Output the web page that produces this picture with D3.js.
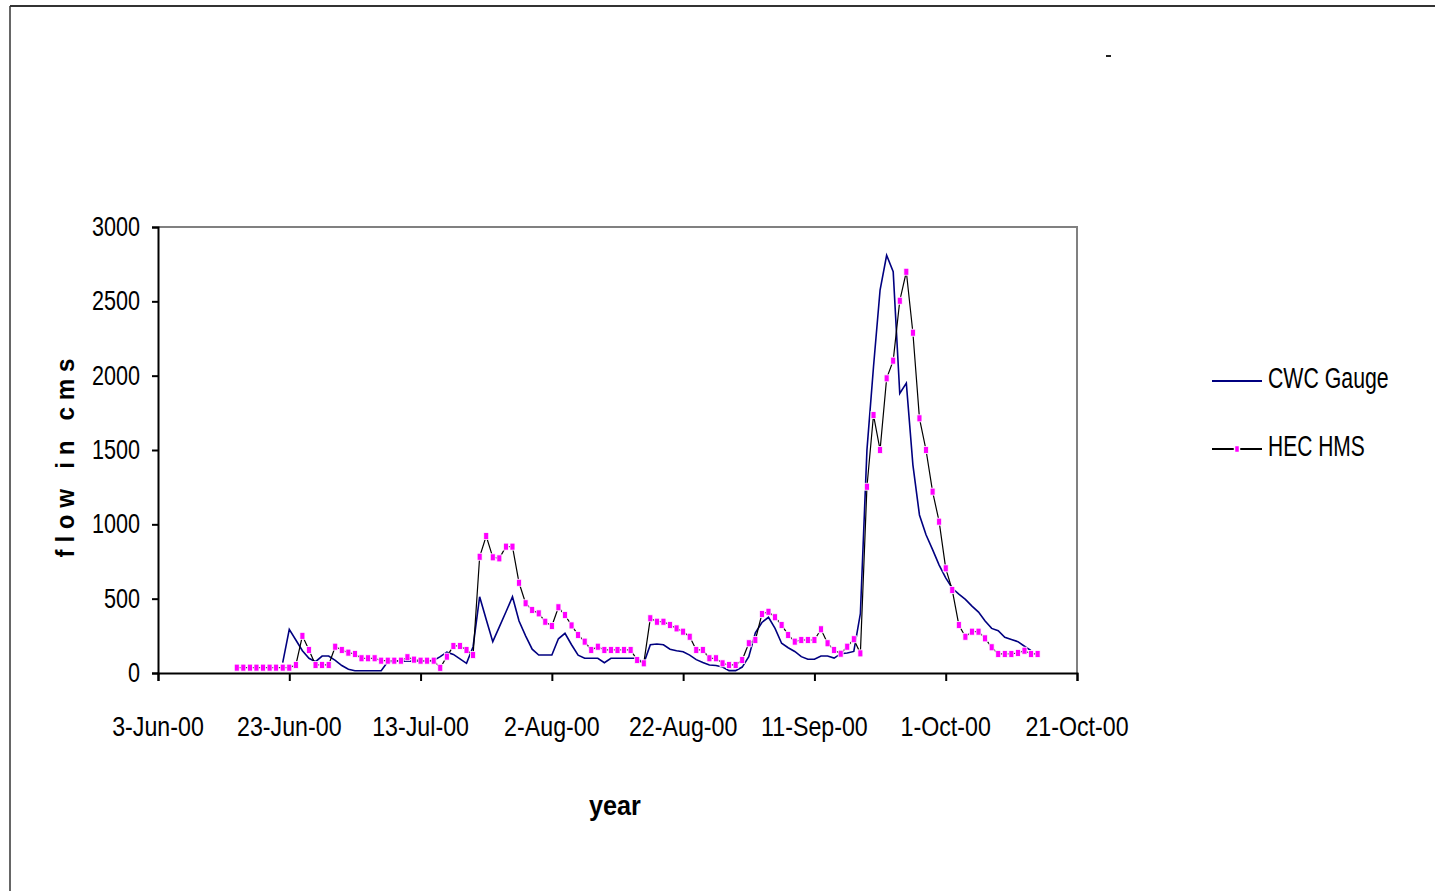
<!DOCTYPE html>
<html>
<head>
<meta charset="utf-8">
<script src="https://cdn.jsdelivr.net/npm/d3@7"></script>
<style>
  html, body { margin: 0; padding: 0; background: #fff; }
  svg { display: block; }
  text { font-family: Arial, "Liberation Sans", sans-serif; fill: #000; white-space: pre; }
</style>
</head>
<body>
<svg id="chart" width="1435" height="891"></svg>
<script>
// ---- data -------------------------------------------------------------
const xTickLabels = ["3-Jun-00", "23-Jun-00", "13-Jul-00", "2-Aug-00",
                     "22-Aug-00", "11-Sep-00", "1-Oct-00", "21-Oct-00"];
const yTickValues = [0, 500, 1000, 1500, 2000, 2500, 3000];

// simulated daily flow (HEC HMS), first value on 15-Jun-00
const hecStart = "15-Jun-00";
const hecFlow = [
  36, 36, 36, 36, 36, 36, 36, 36, 36,
  54, 250, 155, 54, 54, 54, 177, 155, 137, 128,
  99, 99, 99, 83, 83, 83, 83, 106, 90, 83,
  83, 83, 35, 110, 182, 182, 155, 121, 782, 921,
  778, 771, 850, 850, 607, 469, 424, 401, 345, 316,
  442, 390, 320, 256, 211, 155, 177, 155, 155, 155,
  155, 155, 87, 65, 368, 345, 345, 323, 300, 278,
  244, 155, 155, 99, 99, 65, 54, 54, 87, 200,
  222, 397, 412, 375, 323, 256, 211, 222, 222, 222,
  294, 200, 155, 130, 177, 227, 132, 1253, 1735, 1500,
  1982, 2101, 2504, 2699, 2289, 1713, 1500, 1220, 1018, 704,
  558, 323, 244, 278, 278, 233, 173, 128, 128, 128,
  135, 150, 128, 128
];

// observed daily flow (CWC gauge), first value on 22-Jun-00
const cwcStart = "22-Jun-00";
const cwcFlow = [
  70, 294,
  222, 150, 99, 76, 114, 114, 85, 50, 25, 15,
  15, 15, 15, 15, 75, 80, 80, 80, 80, 80,
  80, 85, 110, 140, 125, 95, 65, 177, 513, 360,
  211, 310, 410, 513, 350, 250, 160, 121, 121, 121,
  230, 267, 190, 120, 99, 99, 99, 69, 99, 99,
  99, 99, 99, 65, 190, 195, 190, 160, 150, 143,
  120, 90, 70, 54, 50, 40, 16, 16, 40, 110,
  270, 340, 375, 300, 200, 170, 145, 110, 92, 92,
  114, 114, 100, 130, 135, 145, 400, 1500, 2060, 2576,
  2810, 2700, 1880, 1950, 1400, 1063, 930, 830, 726, 640,
  570, 530, 495, 450, 410, 350, 300, 285, 240, 225,
  211, 180, 150
];

const seriesNames = ["CWC Gauge", "HEC HMS"];
const yTitle = "f l o w   i n   c m s";
const xTitle = "year";

// ---- setup ------------------------------------------------------------
const parseDate = d3.timeParse("%d-%b-%y");
const toSeries = (start, values) =>
  values.map((v, i) => ({ date: d3.timeDay.offset(parseDate(start), i), value: v }));
const hec = toSeries(hecStart, hecFlow);
const cwc = toSeries(cwcStart, cwcFlow);
const tickDates = xTickLabels.map(parseDate);

const svg = d3.select("#chart");
const plot = { left: 158, right: 1077, top: 227, bottom: 673 };

const x = d3.scaleTime()
  .domain([tickDates[0], tickDates[tickDates.length - 1]])
  .range([plot.left, plot.right]);
const y = d3.scaleLinear().domain([0, 3000]).range([plot.bottom, plot.top]);

// condensed text helper (narrow, tall lettering)
function label(parent, px, py, str, opt = {}) {
  const g = parent.append("g")
    .attr("transform", `translate(${px},${py})${opt.rotate ? ` rotate(${opt.rotate})` : ""} scale(${opt.sx || 0.8},1)`);
  return g.append("text")
    .attr("text-anchor", opt.anchor || "start")
    .attr("font-size", opt.size || 27)
    .attr("font-weight", opt.weight || "normal")
    .text(str);
}

// outer chart frame
svg.append("line").attr("x1", 10).attr("x2", 1435).attr("y1", 6).attr("y2", 6)
  .attr("stroke", "#333").attr("stroke-width", 2);
svg.append("line").attr("x1", 10).attr("x2", 10).attr("y1", 6).attr("y2", 891)
  .attr("stroke", "#333").attr("stroke-width", 1.5);
svg.append("rect").attr("x", 1106).attr("y", 55).attr("width", 5).attr("height", 2).attr("fill", "#222");

// plot area border (top / right)
svg.append("path")
  .attr("d", `M${plot.left},${plot.top}H${plot.right}V${plot.bottom}`)
  .attr("fill", "none").attr("stroke", "#808080").attr("stroke-width", 2);

// axes
const xAxis = d3.axisBottom(x).tickValues(tickDates).tickSize(8).tickFormat("");
svg.append("g").attr("transform", `translate(0,${plot.bottom})`).call(xAxis)
  .call(g => g.selectAll("path,line").attr("stroke", "#000").attr("stroke-width", 2));
const yAxis = d3.axisLeft(y).tickValues(yTickValues).tickSize(6).tickFormat("");
svg.append("g").attr("transform", `translate(${plot.left},0)`).call(yAxis)
  .call(g => g.selectAll("path,line").attr("stroke", "#000").attr("stroke-width", 2));

// tick labels
const labels = svg.append("g");
yTickValues.forEach(v => label(labels, 140, y(v) + 9, String(v), { anchor: "end", sx: 0.8 }));
tickDates.forEach((d, i) => label(labels, x(d), 736, xTickLabels[i], { anchor: "middle", sx: 0.86 }));

// axis titles
label(labels, 615, 815, xTitle, { anchor: "middle", weight: "bold", sx: 0.9, size: 28 });
label(labels, 74, 458, yTitle, { anchor: "middle", weight: "bold", rotate: -90, sx: 0.93, size: 26 });

// series lines
const line = d3.line().x(d => x(d.date)).y(d => y(d.value));
svg.append("path").datum(cwc).attr("d", line)
  .attr("fill", "none").attr("stroke", "#000080").attr("stroke-width", 1.6);
svg.append("path").datum(hec).attr("d", line)
  .attr("fill", "none").attr("stroke", "#000").attr("stroke-width", 1.2);
svg.append("g").selectAll("rect").data(hec).join("rect")
  .attr("x", d => x(d.date) - 2.5).attr("y", d => y(d.value) - 3.5)
  .attr("width", 5).attr("height", 7)
  .attr("fill", "#ff00ff").attr("stroke", "#fff").attr("stroke-width", 0.8);

// legend
const legend = svg.append("g");
legend.append("line").attr("x1", 1212).attr("x2", 1262).attr("y1", 381).attr("y2", 381)
  .attr("stroke", "#000080").attr("stroke-width", 2);
label(legend, 1268, 388, seriesNames[0], { sx: 0.71, size: 30 });
legend.append("line").attr("x1", 1212).attr("x2", 1262).attr("y1", 449).attr("y2", 449)
  .attr("stroke", "#000").attr("stroke-width", 2);
legend.append("rect").attr("x", 1234.5).attr("y", 445.5).attr("width", 5).attr("height", 7)
  .attr("fill", "#ff00ff").attr("stroke", "#fff").attr("stroke-width", 1.5);
label(legend, 1268, 456, seriesNames[1], { sx: 0.7, size: 30 });
</script>
</body>
</html>
